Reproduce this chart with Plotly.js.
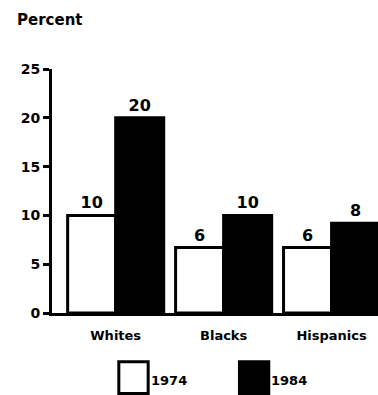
<!DOCTYPE html>
<html>
<head>
<meta charset="utf-8">
<script src="https://cdn.plot.ly/plotly-3.0.1.min.js"></script>
<style>
html,body{margin:0;padding:0;background:#fff;}
#chart{width:378px;height:395px;}
</style>
</head>
<body>
<div id="chart"></div>
<script>
// Data
var categories = ["Whites", "Blacks", "Hispanics"];
var years = ["1974", "1984"];
// bar heights as drawn in the reference
var values1974 = [10, 6.7, 6.7];
var values1984 = [20, 10, 9.2];
// value labels printed above the bars
var labels1974 = ["10", "6", "6"];
var labels1984 = ["20", "10", "8"];
var yTicks = [0, 5, 10, 15, 20, 25];

var xPos = categories.map(function (c, i) { return i; });
var labelFont = {family: "DejaVu Sans", size: 16, color: "#000", weight: "bold"};

var traces = [
  {
    type: "bar", name: years[0], x: xPos, y: values1974,
    marker: {color: "#fff", line: {color: "#000", width: 3}},
    text: labels1974, textposition: "outside", cliponaxis: false,
    textfont: labelFont, showlegend: false, hoverinfo: "skip"
  },
  {
    type: "bar", name: years[1], x: xPos, y: values1984,
    marker: {color: "#000", line: {color: "#000", width: 3}},
    text: labels1984, textposition: "outside", cliponaxis: false,
    textfont: labelFont, showlegend: false, hoverinfo: "skip"
  }
];

var layout = {
  width: 378, height: 395,
  margin: {l: 52, r: 0, t: 69, b: 82},
  paper_bgcolor: "#fff", plot_bgcolor: "#fff",
  barmode: "group", bargap: 0.11, bargroupgap: 0,
  font: {family: "DejaVu Sans", color: "#000"},
  xaxis: {
    range: [-0.59, 2.43],
    tickvals: xPos, ticktext: categories,
    ticks: "", showgrid: false, zeroline: false,
    showline: true, linecolor: "#000", linewidth: 3,
    ticklabelstandoff: 8,
    tickfont: {family: "DejaVu Sans", size: 13, color: "#000", weight: "bold"},
    fixedrange: true
  },
  yaxis: {
    range: [0, 25],
    tickvals: yTicks, ticktext: yTicks.map(String),
    ticks: "outside", ticklen: 6, tickwidth: 3, tickcolor: "#000",
    ticklabelstandoff: 0,
    showgrid: false, zeroline: false,
    showline: true, linecolor: "#000", linewidth: 3,
    tickfont: {family: "DejaVu Sans", size: 14, color: "#000", weight: "bold"},
    fixedrange: true
  },
  annotations: [
    {text: "Percent", xref: "paper", yref: "paper", x: -0.113, y: 1.20,
     xanchor: "left", yanchor: "middle", showarrow: false,
     font: {family: "DejaVu Sans", size: 15, color: "#000", weight: "bold"}},
    {text: years[0], xref: "paper", yref: "paper", x: 0.297, y: -0.276,
     xanchor: "left", yanchor: "middle", showarrow: false,
     font: {family: "DejaVu Sans", size: 13, color: "#000", weight: "bold"}},
    {text: years[1], xref: "paper", yref: "paper", x: 0.667, y: -0.276,
     xanchor: "left", yanchor: "middle", showarrow: false,
     font: {family: "DejaVu Sans", size: 13, color: "#000", weight: "bold"}}
  ],
  shapes: [
    {type: "rect", xref: "paper", yref: "paper",
     x0: 0.205, x1: 0.295, y0: -0.20, y1: -0.33,
     fillcolor: "#fff", line: {color: "#000", width: 3}},
    {type: "rect", xref: "paper", yref: "paper",
     x0: 0.575, x1: 0.665, y0: -0.20, y1: -0.33,
     fillcolor: "#000", line: {color: "#000", width: 3}}
  ]
};

Plotly.newPlot("chart", traces, layout, {displayModeBar: false, staticPlot: true});
</script>
</body>
</html>
